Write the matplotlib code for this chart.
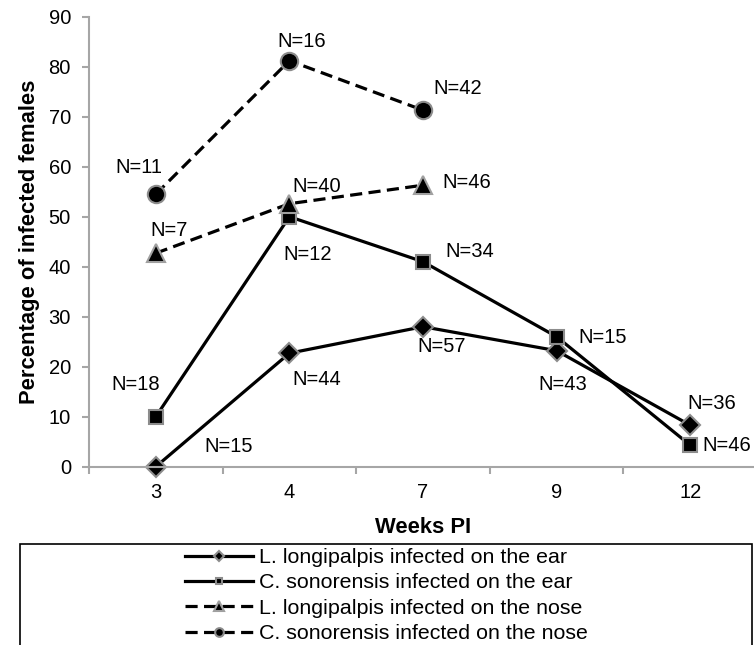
import matplotlib
matplotlib.use("Agg")
import matplotlib.pyplot as plt
from matplotlib.patches import Rectangle

plt.rcParams['font.family'] = ['Liberation Sans', 'DejaVu Sans']

weeks = ['3', '4', '7', '9', '12']

ll_ear = [0, 22.7, 28.0, 23.2, 8.3]
cs_ear = [10, 50.0, 41.0, 26.0, 4.3]
ll_nose = [42.7, 52.6, 56.3]
cs_nose = [54.5, 81.2, 71.3]

ll_ear_n = ['N=15', 'N=44', 'N=57', 'N=43', 'N=36']
cs_ear_n = ['N=18', 'N=12', 'N=34', 'N=15', 'N=46']
ll_nose_n = ['N=7', 'N=40', 'N=46']
cs_nose_n = ['N=11', 'N=16', 'N=42']

# label offsets in pixels (dx, dy), dy positive = up
ll_ear_off = [(73, 20), (27, -26), (19, -20), (6, -34), (22, 22)]
cs_ear_off = [(-20, 32), (18, -38), (47, 10), (46, -1), (37, 0)]
ll_nose_off = [(13, 23), (27, 17), (44, 3)]
cs_nose_off = [(-17, 27), (12, 19), (35, 22)]

W, H = 754, 645
fig = plt.figure(figsize=(W / 100, H / 100), dpi=100)
ax = fig.add_axes([89 / W, 1 - 466.7 / H, 668 / W, 450 / H])

x = list(range(len(weeks)))
edge = '#8c8c8c'
dash = (0, (3.8, 2))
l1, = ax.plot(x, ll_ear, color='black', lw=2.3, marker='D', ms=10, clip_on=False,
              mfc='black', mec=edge, mew=1.5, label='L. longipalpis infected on the ear')
l2, = ax.plot(x, cs_ear, color='black', lw=2.3, marker='s', ms=9.5, clip_on=False,
              mfc='black', mec=edge, mew=1.5, label='C. sonorensis infected on the ear')
l3, = ax.plot(x[:3], ll_nose, color='black', lw=2.3, ls=dash, marker='^', ms=13.5,
              mfc='black', mec='#a0a0a0', mew=1.5, label='L. longipalpis infected on the nose')
l4, = ax.plot(x[:3], cs_nose, color='black', lw=2.3, ls=dash, marker='o', ms=12.5,
              mfc='black', mec=edge, mew=1.5, label='C. sonorensis infected on the nose')

for vals, labs, offs in [(ll_ear, ll_ear_n, ll_ear_off), (cs_ear, cs_ear_n, cs_ear_off),
                         (ll_nose, ll_nose_n, ll_nose_off), (cs_nose, cs_nose_n, cs_nose_off)]:
    for i, (v, t, (dx, dy)) in enumerate(zip(vals, labs, offs)):
        ax.annotate(t, (i, v), xytext=(dx * 0.72, dy * 0.72), textcoords='offset points',
                    ha='center', va='center', fontsize=14.5)

ax.set_xlim(-0.5, len(weeks) - 0.5)
ax.set_ylim(0, 90)
ax.set_yticks(range(0, 91, 10))
ax.set_xticks(x)
ax.set_xticklabels(weeks)
ax.set_xticks([i - 0.5 for i in range(len(weeks) + 1)], minor=True)
ax.tick_params(axis='x', which='major', length=0, pad=11.5, labelsize=14.5)
ax.tick_params(axis='x', which='minor', length=5, width=1.5, color='#a6a6a6')
ax.tick_params(axis='y', length=5, width=1.5, color='#a6a6a6', pad=8, labelsize=14.5)
for s in ['top', 'right']:
    ax.spines[s].set_visible(False)
for s in ['left', 'bottom']:
    ax.spines[s].set_color('#a6a6a6')
    ax.spines[s].set_linewidth(1.5)

ax.set_xlabel('Weeks PI', fontsize=15.8, fontweight='bold', labelpad=11)
ax.set_ylabel('Percentage of infected females', fontsize=15.8, fontweight='bold', labelpad=6)

fig.patches.append(Rectangle((20 / W, -0.05), 732 / W, 1 - 544 / H + 0.05,
                             transform=fig.transFigure, fill=False, ec='black', lw=1.2))
fig.legend(handles=[l1, l2, l3, l4], loc='upper left', bbox_to_anchor=(185 / W, 1 - 548 / H),
           frameon=False, fontsize=15.4, markerscale=0.5, handlelength=3.2,
           handletextpad=0.25, labelspacing=0.3, borderpad=0, borderaxespad=0)

fig.savefig('out.png', dpi=100)
